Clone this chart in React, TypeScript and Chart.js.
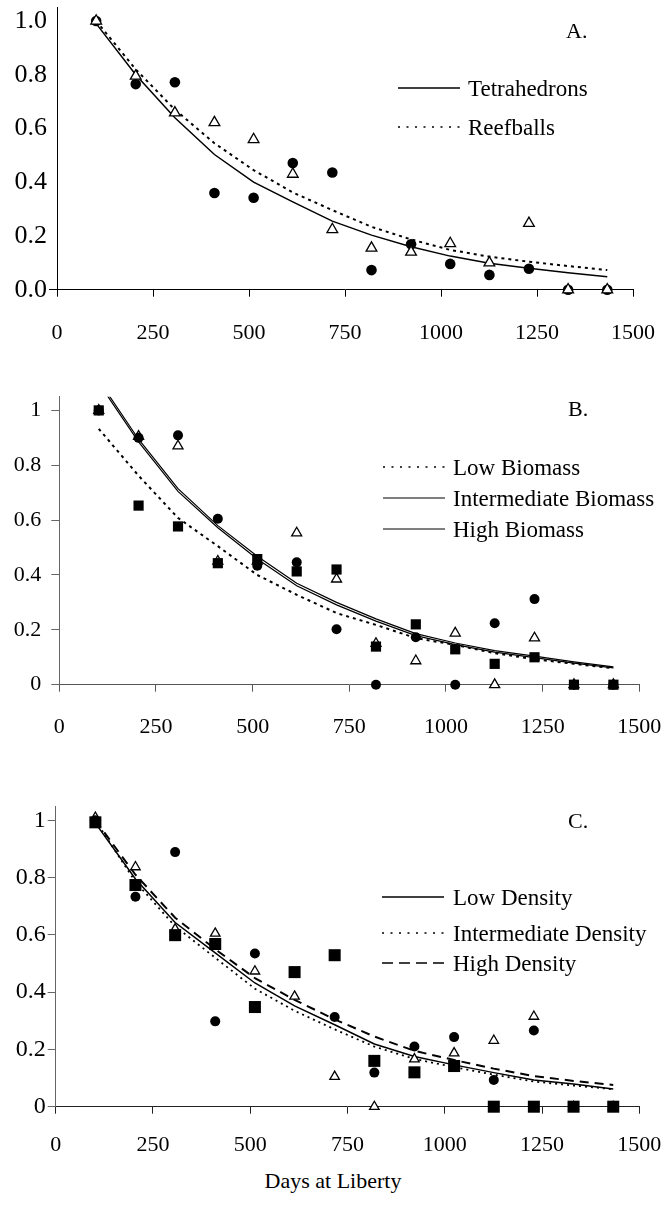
import React, { useEffect, useRef } from 'react';
import { Chart, registerables } from 'chart.js';

Chart.register(...registerables);

const FONT = '"Liberation Serif", "Times New Roman", Times, serif';

// ---------- data ----------
const days = [102, 205, 307, 410, 512, 614, 717, 819, 922, 1024, 1126, 1229, 1331, 1433];
const xTickStep = 250;
const yTickValues = [0, 0.2, 0.4, 0.6, 0.8, 1.0];

// Panel A
const aTetraObs = [1.0, 0.765, 0.772, 0.36, 0.342, 0.471, 0.436, 0.073, 0.169, 0.096, 0.055, 0.078, 0, 0];
const aReefObs = [1.0, 0.795, 0.658, 0.622, 0.559, 0.43, 0.224, 0.155, 0.14, 0.172, 0.1, 0.247, 0, 0];
const aTetraFit = [0.99, 0.8, 0.64, 0.503, 0.4, 0.327, 0.255, 0.203, 0.16, 0.125, 0.098, 0.08, 0.063, 0.048];
const aReefFit = [1.0, 0.82, 0.67, 0.545, 0.445, 0.362, 0.296, 0.234, 0.187, 0.148, 0.123, 0.104, 0.088, 0.073];

// Panel B
const bCircles = [1.0, 0.9, 0.909, 0.605, 0.434, 0.446, 0.202, 0, 0.173, 0, 0.224, 0.312, 0, 0];
const bTriangles = [1.0, 0.905, 0.87, 0.45, 0.45, 0.553, 0.385, 0.15, 0.087, 0.188, 0, 0.17, 0, 0];
const bSquares = [1.0, 0.653, 0.577, 0.443, 0.458, 0.413, 0.42, 0.139, 0.22, 0.129, 0.076, 0.1, 0, 0];
const bLowFit = [0.933, 0.762, 0.608, 0.505, 0.4, 0.328, 0.261, 0.218, 0.17, 0.145, 0.115, 0.093, 0.076, 0.06];
const bIntFit = [1.11, 0.895, 0.715, 0.58, 0.468, 0.37, 0.3, 0.24, 0.186, 0.152, 0.124, 0.104, 0.083, 0.065];
const bHighFit = [1.1, 0.885, 0.705, 0.572, 0.458, 0.361, 0.291, 0.232, 0.179, 0.146, 0.119, 0.099, 0.079, 0.061];

// Panel C
const cCircles = [1.0, 0.733, 0.889, 0.298, 0.535, 0.47, 0.313, 0.119, 0.21, 0.243, 0.093, 0.266, 0, 0];
const cTriangles = [1.01, 0.837, 0.62, 0.605, 0.473, 0.385, 0.105, 0, 0.166, 0.187, 0.231, 0.315, 0, 0];
const cSquares = [0.993, 0.774, 0.599, 0.568, 0.348, 0.47, 0.529, 0.16, 0.12, 0.142, 0, 0, 0, 0];
const cLowFit = [0.99, 0.795, 0.643, 0.537, 0.432, 0.352, 0.286, 0.219, 0.175, 0.146, 0.119, 0.093, 0.079, 0.062];
const cIntFit = [1.0, 0.785, 0.63, 0.52, 0.412, 0.335, 0.27, 0.21, 0.167, 0.138, 0.112, 0.088, 0.074, 0.061];
const cHighFit = [1.0, 0.81, 0.66, 0.55, 0.449, 0.373, 0.305, 0.245, 0.195, 0.163, 0.133, 0.107, 0.09, 0.076];

// ---------- types ----------
type Series = {
  label: string;
  values: number[];
  kind: 'circle' | 'triangle' | 'square' | 'line';
  dash?: number[];
  width?: number;
  radius?: number;
};
type LegendItem = { label: string; dash: number[]; width: number };
type PanelProps = {
  top: number;
  height: number;
  left: number;
  right: number;
  plotTop: number;
  plotBottom: number;
  series: Series[];
  legend: LegendItem[];
  legendX0: number;
  legendX1: number;
  legendTextX: number;
  legendYs: number[];
  letter: string;
  letterX: number;
  letterY: number;
  yFont: number;
  yDecimals: boolean;
  axisColor: string;
  xAxisColor: string;
  yTickLen: number;
  yPad: number;
  xPad: number;
  yTicksOnlyZero?: boolean;
};

function Panel(p: PanelProps) {
  const ref = useRef<HTMLCanvasElement>(null);
  useEffect(() => {
    const canvas = ref.current!;
    const datasets: any[] = p.series.map((s) => {
      const data = days.map((d, i) => ({ x: d, y: s.values[i] }));
      if (s.kind === 'line') {
        return {
          label: s.label,
          data,
          showLine: true,
          pointRadius: 0,
          pointHoverRadius: 0,
          borderColor: '#000',
          backgroundColor: '#000',
          borderWidth: s.width ?? 1.5,
          borderDash: s.dash ?? [],
          tension: 0,
          fill: false,
          order: 1,
          clip: 0,
        };
      }
      const style = s.kind === 'circle' ? 'circle' : s.kind === 'triangle' ? 'triangle' : 'rect';
      return {
        label: s.label,
        data,
        showLine: false,
        pointStyle: style,
        pointRadius: s.radius ?? 5,
        pointHoverRadius: s.radius ?? 5,
        backgroundColor: s.kind === 'triangle' ? '#fff' : '#000',
        borderColor: '#000',
        borderWidth: s.kind === 'triangle' ? 1.3 : 0,
        order: 0,
        clip: false,
      };
    });

    const deco = {
      id: 'deco',
      afterDraw(chart: any) {
        const ctx = chart.ctx as CanvasRenderingContext2D;
        ctx.save();
        p.legend.forEach((it, i) => {
          const y = p.legendYs[i];
          ctx.beginPath();
          ctx.setLineDash(it.dash);
          ctx.lineWidth = it.width;
          ctx.strokeStyle = '#000';
          ctx.moveTo(p.legendX0, y);
          ctx.lineTo(p.legendX1, y);
          ctx.stroke();
          ctx.setLineDash([]);
          ctx.font = `23px ${FONT}`;
          ctx.fillStyle = '#000';
          ctx.textAlign = 'left';
          ctx.textBaseline = 'middle';
          ctx.fillText(it.label, p.legendTextX, y + 2);
        });
        ctx.font = `22px ${FONT}`;
        ctx.fillStyle = '#000';
        ctx.textAlign = 'left';
        ctx.textBaseline = 'middle';
        ctx.fillText(p.letter, p.letterX, p.letterY);
        ctx.restore();
      },
    };

    const chart = new Chart(canvas, {
      type: 'scatter',
      data: { datasets },
      options: {
        animation: false,
        responsive: false,
        devicePixelRatio: 1,
        events: [],
        layout: { padding: { top: p.plotTop, right: 666 - p.right, left: 0, bottom: 0 } },
        plugins: { legend: { display: false }, tooltip: { enabled: false } },
        scales: {
          x: {
            type: 'linear',
            min: 0,
            max: 1500,
            ticks: {
              stepSize: xTickStep,
              color: '#000',
              font: { family: FONT, size: 22 },
              padding: p.xPad,
              maxRotation: 0,
              autoSkip: false,
              callback: (v: any) => String(v),
            },
            grid: { drawOnChartArea: false, drawTicks: true, tickLength: 7, color: p.xAxisColor, lineWidth: 1 },
            border: { display: true, color: p.xAxisColor, width: 1 },
            afterFit: (s: any) => {
              s.height = p.height - p.plotBottom;
              s.paddingLeft = 0;
              s.paddingRight = 0;
            },
          },
          y: {
            type: 'linear',
            min: 0,
            max: 1.05,
            afterBuildTicks: (s: any) => {
              s.ticks = yTickValues.map((v) => ({ value: v }));
            },
            ticks: {
              color: '#000',
              font: { family: FONT, size: p.yFont },
              padding: p.yPad,
              callback: (v: any) => (p.yDecimals ? Number(v).toFixed(1) : String(v)),
            },
            grid: {
              drawOnChartArea: false,
              drawTicks: true,
              tickLength: p.yTickLen,
              color: (c: any) =>
                p.yTicksOnlyZero && c.tick && c.tick.value !== 0 ? 'rgba(0,0,0,0)' : p.axisColor,
              lineWidth: 1,
            },
            border: { display: true, color: p.axisColor, width: 1 },
            afterFit: (s: any) => {
              s.width = p.left;
              s.paddingTop = 0;
              s.paddingBottom = 0;
            },
          },
        },
      } as any,
      plugins: [deco],
    });
    return () => chart.destroy();
  }, []);
  return (
    <canvas
      ref={ref}
      width={666}
      height={p.height}
      style={{ position: 'absolute', left: 0, top: p.top, width: 666, height: p.height, display: 'block' }}
    />
  );
}

export default function App() {
  return (
    <div style={{ position: 'absolute', left: 0, top: 0, width: 666, height: 1216, background: '#fff', overflow: 'hidden' }}>
      <Panel
        top={0}
        height={350}
        left={57}
        right={633}
        plotTop={6}
        plotBottom={289.7}
        series={[
          { label: 'Reefballs observed', values: aReefObs, kind: 'triangle', radius: 6.2 },
          { label: 'Tetrahedrons observed', values: aTetraObs, kind: 'circle', radius: 5.3 },
          { label: 'Tetrahedrons', values: aTetraFit, kind: 'line', width: 1.5 },
          { label: 'Reefballs', values: aReefFit, kind: 'line', width: 2, dash: [3, 4] },
        ]}
        legend={[
          { label: 'Tetrahedrons', dash: [], width: 1.5 },
          { label: 'Reefballs', dash: [2, 6.5], width: 1.5 },
        ]}
        legendX0={398}
        legendX1={460}
        legendTextX={468}
        legendYs={[88, 127]}
        letter="A."
        letterX={566}
        letterY={32}
        yFont={26}
        yDecimals={true}
        axisColor="#000"
        xAxisColor="#000"
        yTickLen={8}
        yPad={2}
        xPad={23}
        yTicksOnlyZero={true}
      />
      <Panel
        top={350}
        height={410}
        left={59.3}
        right={639.3}
        plotTop={46.7}
        plotBottom={334.7}
        series={[
          { label: 'Squares', values: bSquares, kind: 'square', radius: 7.2 },
          { label: 'Circles', values: bCircles, kind: 'circle', radius: 5 },
          { label: 'Triangles', values: bTriangles, kind: 'triangle', radius: 5.8 },
          { label: 'Low Biomass', values: bLowFit, kind: 'line', width: 2, dash: [3, 4] },
          { label: 'Intermediate Biomass', values: bIntFit, kind: 'line', width: 1.2 },
          { label: 'High Biomass', values: bHighFit, kind: 'line', width: 1.2 },
        ]}
        legend={[
          { label: 'Low Biomass', dash: [2, 6.5], width: 1.5 },
          { label: 'Intermediate Biomass', dash: [], width: 1.2 },
          { label: 'High Biomass', dash: [], width: 1.2 },
        ]}
        legendX0={383}
        legendX1={445}
        legendTextX={453}
        legendYs={[117, 148, 179]}
        letter="B."
        letterX={568}
        letterY={60}
        yFont={22}
        yDecimals={false}
        axisColor="#666"
        xAxisColor="#555"
        yTickLen={8}
        yPad={10}
        xPad={22}
      />
      <Panel
        top={760}
        height={400}
        left={55.7}
        right={639.3}
        plotTop={46}
        plotBottom={346.7}
        series={[
          { label: 'Squares', values: cSquares, kind: 'square', radius: 8.5 },
          { label: 'Circles', values: cCircles, kind: 'circle', radius: 5 },
          { label: 'Triangles', values: cTriangles, kind: 'triangle', radius: 5.5 },
          { label: 'Low Density', values: cLowFit, kind: 'line', width: 1.5 },
          { label: 'Intermediate Density', values: cIntFit, kind: 'line', width: 1.8, dash: [2, 4] },
          { label: 'High Density', values: cHighFit, kind: 'line', width: 2, dash: [9, 6] },
        ]}
        legend={[
          { label: 'Low Density', dash: [], width: 1.5 },
          { label: 'Intermediate Density', dash: [2, 6.5], width: 1.5 },
          { label: 'High Density', dash: [11, 6], width: 1.5 },
        ]}
        legendX0={382}
        legendX1={444}
        legendTextX={453}
        legendYs={[137, 173, 203]}
        letter="C."
        letterX={568}
        letterY={62}
        yFont={24}
        yDecimals={false}
        axisColor="#666"
        xAxisColor="#222"
        yTickLen={8}
        yPad={2}
        xPad={18}
      />
      <div
        style={{
          position: 'absolute',
          left: 0,
          top: 1168,
          width: 666,
          textAlign: 'center',
          font: `22px ${FONT}`,
          lineHeight: '26px',
          color: '#000',
        }}
      >
        Days at Liberty
      </div>
    </div>
  );
}
